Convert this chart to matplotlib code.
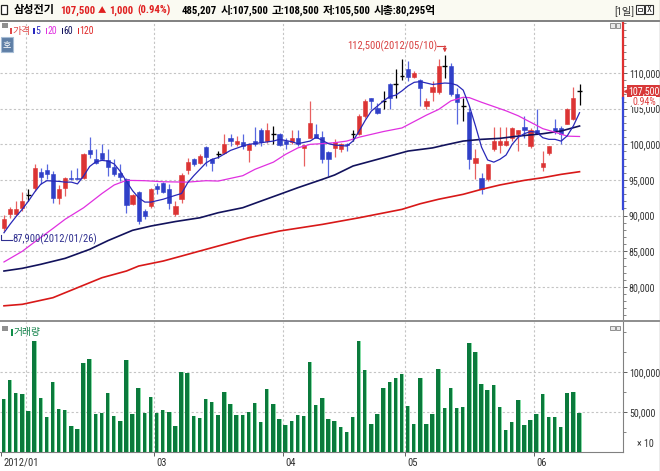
import numpy as np
import matplotlib
matplotlib.use('agg')
from matplotlib import pyplot as plt
from matplotlib import font_manager
from matplotlib.patches import Rectangle
from matplotlib.lines import Line2D

W, H = 660, 471

# daily candles 2012/01/26 .. 2012/06/11 (index = trading day)
opens = [88300, 90180, 90250, 91020, 92890, 93920, 96120, 96400, 95880, 92520,
         93920, 95320, 95320, 95320, 99150, 97980, 98830, 97760, 96820, 95950,
         95090, 91670, 93310, 90640, 91350, 94150, 94620, 93690, 90270, 92290,
         96350, 97890, 97420, 99620, 97890, 98590, 98830, 100930, 100000, 100370,
         99150, 100470, 101960, 100470, 101400, 101400, 100470, 100370, 100930, 99430,
         100930, 101400, 101020, 98970, 99430, 99300, 100000, 101400, 101400, 103970,
         106540, 105050, 106070, 108410, 108410, 109580, 110520, 109490, 108970, 105370,
         107380, 107380, 110980, 110980, 107010, 105370, 104580, 97420, 95230, 95090,
         99290, 99850, 99890, 100930, 101400, 102430, 99760, 101960, 96860, 98830,
         102330, 102330, 102900, 103500, 107500]
highs = [90100, 91200, 92050, 93350, 93690, 97190, 96630, 97190, 96260, 94290,
         95400, 96400, 96630, 98830, 101020, 99380, 100090, 99300, 97890, 97250,
         95320, 93100, 93400, 90880, 93920, 94620, 94700, 94380, 92050, 96020,
         98120, 98120, 98600, 99760, 98120, 99060, 101400, 101400, 101160, 101500,
         100230, 102430, 102330, 103030, 102570, 101630, 100930, 101960, 101960, 99900,
         106070, 102900, 101870, 99060, 100700, 100230, 100230, 101960, 104200, 106300,
         106540, 105840, 107470, 108640, 110510, 111920, 111680, 110220, 109130, 106540,
         108880, 111920, 112500, 111450, 107940, 106540, 105140, 99290, 96020, 97260,
         102430, 102430, 102430, 102430, 101960, 103970, 102330, 104900, 99060, 99760,
         103500, 102570, 105140, 108040, 108500]
lows = [87900, 89700, 89950, 90640, 92050, 93450, 94390, 95090, 91820, 91580,
        92750, 95000, 95090, 95200, 98120, 97190, 97750, 95550, 95550, 94810,
        90410, 91490, 88870, 89480, 91110, 92990, 93200, 90880, 90000, 91810,
        95880, 96950, 97200, 96960, 96260, 98120, 98600, 99760, 99760, 99300,
        97560, 99760, 99760, 100230, 100000, 99760, 99390, 100000, 99760, 96960,
        100840, 100840, 97420, 95550, 98220, 98990, 99060, 100460, 101300, 103740,
        104900, 104200, 104900, 104900, 106540, 108980, 108880, 109350, 105370, 104910,
        106070, 107010, 109350, 106770, 102900, 103270, 96490, 95090, 93080, 94900,
        99060, 98820, 99700, 100460, 99060, 100930, 99430, 101400, 96260, 98500,
        101400, 100000, 102800, 103400, 105500]
closes = [89480, 90880, 90880, 92050, 92890, 96630, 95420, 95790, 92430, 93690,
          95230, 95090, 95090, 98590, 98590, 97380, 97980, 96820, 95790, 95480,
          91440, 92890, 89240, 89940, 93690, 93690, 93310, 91810, 91350, 95700,
          97560, 97190, 98360, 98220, 97420, 98590, 100000, 100470, 100470, 99760,
          100000, 100000, 100370, 101960, 101400, 99900, 100000, 100930, 100000, 99860,
          103030, 100930, 97890, 97890, 100370, 100000, 99900, 101400, 103970, 106070,
          106070, 104430, 106070, 106540, 108410, 109580, 109490, 109950, 107940, 106070,
          108040, 110980, 110980, 107010, 105980, 105370, 97890, 98030, 93690, 97190,
          100460, 100460, 100460, 102330, 101960, 101960, 101960, 101400, 97420, 99760,
          101870, 101400, 104900, 106500, 107500]
volumes = [66500, 90400, 74100, 72800, 51500, 139300, 67800, 43900, 87900, 54000,
           52700, 32600, 28900, 111700, 116700, 47700, 49000, 74100, 45200, 38900,
           115500, 47700, 80300, 49000, 69000, 49000, 52700, 50200, 32600, 100400,
           99200, 45200, 42700, 66500, 62800, 46400, 75300, 60200, 46400, 46400,
           50200, 61500, 37700, 79100, 60200, 41400, 33900, 38900, 46400, 45200,
           113000, 59000, 67800, 41400, 38900, 31400, 25100, 43900, 139300, 102900,
           35100, 47700, 80300, 87900, 92900, 97900, 57700, 35100, 92900, 35100,
           47700, 104200, 55200, 80300, 55200, 56500, 136800, 125500, 85400, 77800,
           84100, 56500, 27600, 37700, 65300, 33900, 40200, 47700, 72800, 43900,
           43900, 31400, 74100, 75300, 48500]

# moving averages as drawn (bar index, value)
ma5_idx = [0, 1, 2, 3, 4, 5, 6, 7, 8, 9, 10, 11, 12, 13, 14, 15, 16, 17, 18, 19,
           20, 21, 22, 23, 24, 26, 28, 29, 30, 31, 32, 33, 34, 35, 37, 39, 40, 42, 44, 45,
           47, 48, 50, 51, 53, 54, 56, 57, 58, 59, 60, 61, 62, 63, 64, 65, 66, 67, 68, 69,
           70, 71, 72, 73, 74, 75, 76, 77, 78, 79, 80, 81, 82, 83, 84, 85, 86, 87, 88, 89,
           90, 91, 92, 93, 94]
ma5_val = [87600, 88800, 89900, 90900, 92050, 93300, 94400, 94900, 94850, 94800,
           94700, 94700, 94450, 95550, 96900, 97550, 97750, 97650, 97250, 96200,
           94800, 93500, 92500, 91900, 91900, 92300, 92850, 93100, 94600, 95600,
           96500, 97400, 97900, 98150, 99150, 99760, 100000, 100230, 100460, 100700,
           100370, 100090, 100460, 101000, 100090, 99900, 99760, 100460, 101860, 103360,
           104670, 105370, 106100, 106700, 106900, 107500, 108200, 108700, 108800, 108600,
           108400, 108500, 108600, 108550, 108300, 107600, 105400, 102600, 99600, 97800,
           97500, 97900, 98500, 100000, 101000, 101500, 101800, 101700, 100930, 100700,
           100700, 100450, 101200, 102600, 104430]
ma20_idx = [0, 3, 5, 8, 10, 13, 16, 18, 20, 23, 26, 30, 33, 35, 39, 41, 44, 46, 48, 50,
            52, 54, 56, 58, 60, 62, 65, 67, 69, 71, 73, 75, 76, 78, 80, 82, 84, 86, 88, 90,
            92, 94]
ma20_val = [83500, 85000, 86300, 88200, 89500, 91100, 93100, 94300, 94950, 94900,
            94750, 94700, 94900, 94850, 95600, 96500, 97500, 98600, 99500, 100000,
            100100, 100230, 100460, 101000, 101400, 101800, 102300, 103200, 104100, 104900,
            106100, 106600, 106550, 105900, 105300, 104700, 104000, 103100, 102200, 101700,
            101150, 101100]
ma60_idx = [0, 3, 6, 10, 14, 17, 21, 24, 28, 32, 35, 39, 42, 45, 48, 52, 54, 57, 60, 63,
            66, 70, 72, 75, 78, 81, 84, 88, 91, 94]
ma60_val = [82230, 82610, 83170, 84010, 85270, 86500, 87940, 88540, 89170, 89700,
            90410, 91110, 92050, 92980, 93920, 95090, 95700, 96960, 97660, 98360,
            99060, 99500, 99900, 100460, 100700, 100840, 101160, 101490, 101870, 102570]
ma120_idx = [0, 3, 5, 8, 10, 16, 20, 22, 26, 29, 32, 35, 40, 45, 52, 58, 65, 68, 71, 75,
             78, 81, 85, 88, 91, 94]
ma120_val = [77350, 77560, 77930, 78490, 79190, 81290, 82230, 82930, 83630, 84330,
             85040, 85740, 86900, 87840, 88770, 89700, 90880, 91670, 92300, 92990,
             93690, 94300, 94950, 95320, 95790, 96160]

month_idx = [0, 4, 25, 46, 66, 87]
month_labels = ['2012/01', '', '03', '04', '05', '06']
price_ticks = [80000, 85000, 90000, 95000, 100000, 105000, 110000]
vol_ticks = [50000, 100000]

UP = '#dc3434'
DOWN = '#3040c8'
GRID = '#c4c4c4'


def pick_font(names):
    have = set(f.name for f in font_manager.fontManager.ttflist)
    for n in names:
        if n in have:
            return n
    return 'DejaVu Sans'


NARROW = pick_font(['Liberation Sans Narrow', 'Roboto Condensed', 'Liberation Sans'])
plt.rcParams['font.family'] = [NARROW, 'Noto Sans CJK KR', 'DejaVu Sans']

fig = plt.figure(figsize=(6.6, 4.71), dpi=100, facecolor='white')
renderer = fig.canvas.get_renderer()

# shrink the small labels so that "110,000" fits the 31 px side panel
probe = fig.text(0, 0, '110,000', fontsize=10)
probe_w = probe.get_window_extent(renderer).width
probe.remove()
FS = min(7.5, 10 * 31.0 / probe_w)


def ftext(x, y, s, **kw):
    kw.setdefault('va', 'center')
    kw.setdefault('ha', 'left')
    return fig.text(x / W, 1 - y / H, s, **kw)


def frect(x, y, w, h, **kw):
    fig.add_artist(Rectangle((x / W, 1 - (y + h) / H), w / W, h / H,
                             transform=fig.transFigure, **kw))


def fline(x0, y0, x1, y1, **kw):
    fig.add_artist(Line2D([x0 / W, x1 / W], [1 - y0 / H, 1 - y1 / H],
                          transform=fig.transFigure, **kw))


# ---------- header bar ----------
frect(0, 0, W, 20, fc='#fafaf2', ec='none')
fline(0, 20.5, W, 20.5, color='#808080', lw=1.4)
frect(1, 5, 6.5, 9, fc='white', ec='#202020', lw=0.9)
header = [(14, '삼성전기', 'black', 8), (60, '107,500', '#e02020', FS + 0.6),
          (98, '▲', '#e02020', 6), (108, '1,000', '#e02020', FS + 0.6),
          (137, '(0.94%)', '#e02020', FS + 0.6), (182, '485,207', 'black', FS + 0.6),
          (215, '시:107,500', 'black', FS + 0.6), (270, '고:108,500', 'black', FS + 0.6),
          (323, '저:105,500', 'black', FS + 0.6), (372, '시총:80,295억', 'black', FS + 0.6)]
prev_end = -100
for hx, s, col, sz in header:
    t = ftext(max(hx, prev_end + 3), 10.5, s, fontsize=sz, color=col, fontweight='bold')
    prev_end = t.get_window_extent(renderer).x1
ftext(614, 10.5, '[1일]', fontsize=7.5, color='#303030')
frect(636, 5, 7.5, 9, fc='white', ec='#303030', lw=0.8)
frect(638, 7.5, 3.5, 3, fc='none', ec='#303030', lw=0.6)
frect(645, 5, 8, 9, fc='white', ec='#303030', lw=0.8)
ftext(649, 9.8, 'X', fontsize=6.5, color='#202020', ha='center')

# ---------- price pane ----------
ax = fig.add_axes([0, 1 - 319 / H, 623 / W, 298 / H])
axv = fig.add_axes([0, 1 - 452 / H, 623 / W, 130 / H])

x = np.arange(len(closes))
o = np.array(opens)
h = np.array(highs)
l = np.array(lows)
c = np.array(closes)

body_col = np.where(c > o, UP, np.where(c < o, DOWN, 'black'))
wick_col = np.where(c > o, '#e86060', np.where(c < o, '#5868e0', 'black'))
ax.vlines(x, l, h, colors=wick_col, lw=0.9, zorder=2)
moved = c != o
ax.bar(x[moved], np.abs(c - o)[moved], bottom=np.minimum(o, c)[moved], width=0.68,
       color=body_col[moved], edgecolor=body_col[moved], lw=0.4, zorder=3)
ax.hlines(c[~moved], x[~moved] - 0.4, x[~moved] + 0.4, colors='black', lw=1.0, zorder=3)

ax.plot(ma120_idx, ma120_val, color='#d81818', lw=1.2, zorder=4)
ax.plot(ma60_idx, ma60_val, color='#12125c', lw=1.2, zorder=4)
ax.plot(ma20_idx, ma20_val, color='#e030e0', lw=0.9, zorder=4)
ax.plot(ma5_idx, ma5_val, color='#2828b8', lw=0.9, zorder=4)

ax.set_xlim(-0.65, 101.1)
ax.set_ylim(75500, 117300)
for a in (ax, axv):
    a.set_facecolor('white')
    for s in ('left', 'top'):
        a.spines[s].set_visible(False)
    a.spines['right'].set_color('#808080')
    a.spines['bottom'].set_color('#808080')
    a.yaxis.tick_right()
    a.tick_params(axis='y', which='major', direction='out', length=3, width=0.7,
                  color='#606060', pad=1.2, labelsize=FS, labelcolor='#333333')
    a.tick_params(axis='y', which='minor', direction='out', length=2, width=0.6,
                  color='#707070')
    for mi in month_idx[1:]:
        a.axvline(mi - 0.45, color=GRID, lw=0.8, ls=(0, (2, 2)), zorder=0)
ax.spines['bottom'].set_visible(False)
ax.set_xticks([])
ax.set_yticks(price_ticks)
ax.set_yticklabels(['{:,}'.format(v) for v in price_ticks])
ax.set_yticks(np.arange(76000, 117001, 1000), minor=True)
ax.grid(axis='y', color=GRID, lw=0.8, ls=(0, (2, 2)), zorder=0)

trans = ax.get_yaxis_transform()
ax.plot([1, 1], [106500, 117300], transform=trans, color='#e03030', lw=1.6,
        clip_on=False, zorder=5)
ax.plot([1, 1], [90900, 106500], transform=trans, color='#3848d8', lw=1.6,
        clip_on=False, zorder=5)
ax.plot([1.006], [closes[-1]], transform=trans, marker='<', ms=4, color='#d83838',
        clip_on=False, zorder=6)
ax.text(1.009, closes[-1], '{:,}'.format(closes[-1]), transform=trans, ha='left',
        va='center', fontsize=FS, color='white', clip_on=False, zorder=7,
        bbox=dict(boxstyle='square,pad=0.12', fc='#d83838', ec='none'))
ax.text(1.053, 106000, '0.94%', transform=trans, ha='right', va='center',
        fontsize=FS, color='#e04040', clip_on=False, zorder=7,
        bbox=dict(boxstyle='square,pad=0.03', fc='white', ec='none'))

# high / low notes
hi = int(np.argmax(highs))
ax.text(hi - 1.25, 113790, '112,500(2012/05/10)', ha='right', va='center',
        fontsize=FS + 0.5, color='#d84040', zorder=6)
ax.plot([hi - 1.2, hi], [113790, 113790], color='#d84040', lw=0.8, zorder=6)
ax.annotate('', xy=(hi, 112900), xytext=(hi, 113800),
            arrowprops=dict(arrowstyle='-|>', color='#d84040', lw=0.8,
                            mutation_scale=5, shrinkA=0, shrinkB=0))
lo = int(np.argmin(lows))
ax.plot([lo - 0.41, lo - 0.41, lo + 1.3], [87300, 86650, 86650], color='#303090',
        lw=0.8, zorder=6)
ax.text(lo + 1.45, 86650, '87,900(2012/01/26)', ha='left', va='center',
        fontsize=FS + 0.5, color='#303090', zorder=6)

# ---------- volume pane ----------
vol = np.array(volumes)
axv.bar(x - 0.36, vol, width=0.72, align='edge', color='#86dca6', lw=0, zorder=2)
axv.bar(x - 0.36, vol, width=0.56, align='edge', color='#0b7a3c', lw=0, zorder=3)
axv.set_xlim(-0.65, 101.1)
axv.set_ylim(0, 163000)
axv.set_yticks(vol_ticks)
axv.set_yticklabels(['{:,}'.format(v) for v in vol_ticks])
axv.set_yticks([25000, 75000, 125000, 150000], minor=True)
axv.grid(axis='y', color=GRID, lw=0.8, ls=(0, (2, 2)), zorder=0)
tick_pos = [m - 0.45 for m in month_idx]
axv.set_xticks([t for t, s in zip(tick_pos, month_labels) if s])
axv.set_xticklabels([])
axv.tick_params(axis='x', direction='out', length=3, width=0.7, color='#606060')
for t, s in zip(tick_pos, month_labels):
    if s:
        axv.text(t + 0.35, -0.045, s, transform=axv.get_xaxis_transform(), ha='left',
                 va='top', fontsize=FS + 0.5, color='#333333', clip_on=False)
axv.text(1.05, 9500, '× 10', transform=axv.get_yaxis_transform(), ha='right',
         va='center', fontsize=FS, color='#333333', clip_on=False)

# ---------- pane decorations ----------
fline(0, 320.5, W, 320.5, color='#7a7a7a', lw=1.2)
fline(659.5, 0, 659.5, H, color='#a0a0a0', lw=1.0)

# price legend
frect(2, 23, 6, 5, fc='#909090', ec='none')
legend_items = [(10, '가격', '#e04848'), (33, '5', '#2828c0'), (45.5, '20', '#e030e0'),
                (61.5, '60', '#12125c'), (77.5, '120', '#e02828')]
for lx, s, col in legend_items:
    frect(lx, 27.5, 1.6, 6.5, fc=col, ec='none')
    ftext(lx + 2.2, 31, s, fontsize=7, color=col)
frect(1, 37, 11.5, 15, fc='#5f7fa6', ec='#a8bed6', lw=0.8)
ftext(6.75, 44.5, '호', fontsize=6.5, color='white', ha='center')
for bx in (610, 615.5):
    frect(bx, 23, 4.5, 4.5, fc='#e8e8e8', ec='#808080', lw=0.6)
    frect(bx, 325.5, 4.5, 4.5, fc='#e8e8e8', ec='#808080', lw=0.6)

# volume legend
frect(2, 326, 5.5, 5, fc='#909090', ec='none')
frect(11, 328.5, 1.6, 7, fc='#10904a', ec='none')
ftext(13.5, 332.5, '거래량', fontsize=7, color='#108048')

fig.savefig('out.png', dpi=100, facecolor='white')
